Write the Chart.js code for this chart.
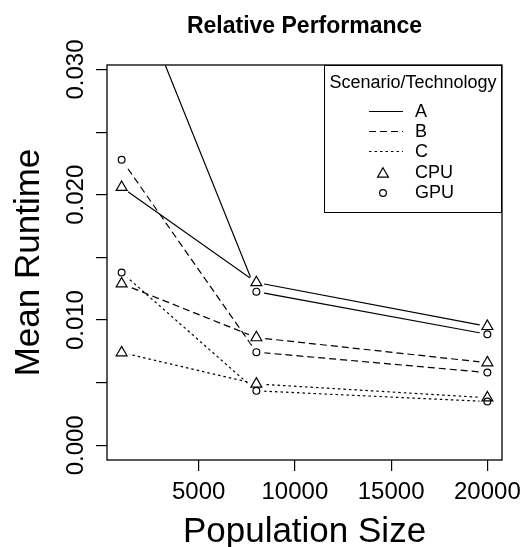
<!DOCTYPE html>
<html>
<head>
<meta charset="utf-8">
<script src="https://cdn.jsdelivr.net/npm/chart.js@4"></script>
<style>
  html, body { margin: 0; padding: 0; background: #fff; }
  #wrap { position: relative; width: 523px; height: 547px; }
  #legend {
    position: absolute; left: 324px; top: 65px; width: 178px; height: 148px;
    border: 1.3px solid #000; box-sizing: border-box;
    font-family: "Liberation Sans", Arial, sans-serif; color: #000;
  }
  #legend .title { position: absolute; left: 0; right: 0; top: 6px; text-align: center; font-size: 18px; line-height: 20px; }
  #legend .row { position: absolute; left: 0; right: 0; height: 20px; }
  #legend .row svg { position: absolute; left: 43px; top: 0; }
  #legend .row span { position: absolute; left: 90px; top: 0; font-size: 18px; line-height: 20px; }
</style>
</head>
<body>
<div id="wrap">
  <canvas id="perf" width="523" height="547"></canvas>
  <div id="legend"></div>
</div>
<script>
  // donnees
  const sizes = [1000, 8000, 20000];
  const cpuA = [0.0206, 0.0130, 0.0095];
  const gpuA = [0.0390, 0.01227, 0.00887];
  const cpuB = [0.0129, 0.0086, 0.0066];
  const gpuB = [0.0228, 0.00744, 0.00581];
  const cpuC = [0.0074, 0.0049, 0.0038];
  const gpuC = [0.0138, 0.00435, 0.0035];

  const xTicks = [5000, 10000, 15000, 20000];
  const yTicks = [0, 0.005, 0.010, 0.015, 0.020, 0.025, 0.030];
  const yLabelled = [0, 0.010, 0.020, 0.030];

  const scenarios = ["A", "B", "C"];
  const techs = ["CPU", "GPU"];

  // styles
  const FONT = '"Liberation Sans", Arial, sans-serif';
  const dashes = { A: [], B: [7, 4], C: [2.5, 3] };
  const shapes = { CPU: ["triangle", 6.3], GPU: ["circle", 3.4] };

  const series = [
    { sc: "A", tech: "CPU", vals: cpuA },
    { sc: "A", tech: "GPU", vals: gpuA },
    { sc: "B", tech: "CPU", vals: cpuB },
    { sc: "B", tech: "GPU", vals: gpuB },
    { sc: "C", tech: "CPU", vals: cpuC },
    { sc: "C", tech: "GPU", vals: gpuC },
  ];

  function pts(vals) {
    return sizes.map((x, i) => ({ x: x, y: vals[i] }));
  }

  Chart.defaults.font.family = FONT;
  Chart.defaults.color = "#000";

  // lignes avec un trou blanc autour des points (comme type="b")
  const lineSets = series.map((s) => ({
    data: pts(s.vals),
    borderColor: "#000",
    borderWidth: 1.2,
    borderDash: dashes[s.sc],
    tension: 0,
    fill: false,
    pointStyle: "circle",
    pointRadius: 8,
    pointBackgroundColor: "#fff",
    pointBorderColor: "#fff",
    pointBorderWidth: 0,
    order: 1,
  }));

  const symbolSets = series.map((s) => ({
    data: pts(s.vals),
    showLine: false,
    pointStyle: shapes[s.tech][0],
    pointRadius: shapes[s.tech][1],
    pointBorderColor: "#000",
    pointBackgroundColor: "rgba(0,0,0,0)",
    pointBorderWidth: 1.2,
    order: 0,
  }));

  // cadre autour de la zone de trace
  const frame = {
    id: "frame",
    afterDatasetsDraw(chart) {
      const { ctx, chartArea: a } = chart;
      ctx.save();
      ctx.strokeStyle = "#000";
      ctx.lineWidth = 1.3;
      ctx.strokeRect(a.left, a.top, a.right - a.left, a.bottom - a.top);
      ctx.restore();
    },
  };

  const tickGrid = {
    display: true,
    drawOnChartArea: false,
    drawTicks: true,
    tickLength: 11,
    color: "#000",
    lineWidth: 1.2,
  };

  new Chart(document.getElementById("perf"), {
    type: "line",
    data: { datasets: lineSets.concat(symbolSets) },
    plugins: [frame],
    options: {
      responsive: false,
      animation: false,
      layout: { padding: { top: 0, right: 21, bottom: 0, left: 0 } },
      plugins: {
        legend: { display: false },
        tooltip: { enabled: false },
        title: {
          display: true,
          fullSize: false,
          text: "Relative Performance",
          color: "#000",
          font: { size: 23, weight: "bold" },
          padding: { top: 13, bottom: 24.4 },
        },
      },
      scales: {
        x: {
          type: "linear",
          min: 240,
          max: 20760,
          afterBuildTicks: (s) => { s.ticks = xTicks.map((v) => ({ value: v })); },
          afterFit: (s) => { s.height = 87; s.paddingLeft = 0; s.paddingRight = 0; },
          border: { display: false },
          grid: tickGrid,
          ticks: {
            font: { size: 24 },
            color: "#000",
            padding: 7,
            maxRotation: 0,
            autoSkip: false,
            callback: (v) => String(v),
          },
          title: {
            display: true,
            text: "Population Size",
            color: "#000",
            font: { size: 35 },
            padding: { top: 0, bottom: -6 },
          },
        },
        y: {
          type: "linear",
          min: -0.00117,
          max: 0.03036,
          afterBuildTicks: (s) => { s.ticks = yTicks.map((v) => ({ value: v })); },
          afterFit: (s) => { s.width = 107; s.paddingTop = 0; s.paddingBottom = 0; },
          border: { display: false },
          grid: tickGrid,
          ticks: {
            font: { size: 24 },
            color: "#000",
            minRotation: 90,
            maxRotation: 90,
            crossAlign: "center",
            padding: -10,
            autoSkip: false,
            callback: (v) => yLabelled.some((t) => Math.abs(t - v) < 1e-9) ? v.toFixed(3) : "",
          },
          title: {
            display: true,
            text: "Mean Runtime",
            color: "#000",
            font: { size: 35 },
            padding: { top: 8, bottom: 0 },
          },
        },
      },
    },
  });

  /* LEGENDE */
  const legend = document.getElementById("legend");
  const head = document.createElement("div");
  head.className = "title";
  head.textContent = "Scenario/Technology";
  legend.appendChild(head);

  const rows = scenarios.map((n) => ({ label: n, dash: dashes[n] }))
    .concat(techs.map((n) => ({ label: n, shape: shapes[n] })));

  rows.forEach((r, i) => {
    const row = document.createElement("div");
    row.className = "row";
    row.style.top = (35 + i * 20.2) + "px";
    let svg = '<svg width="36" height="20" xmlns="http://www.w3.org/2000/svg">';
    if (r.dash) {
      svg += '<line x1="1" y1="10.5" x2="35" y2="10.5" stroke="#000" stroke-width="1.2"' +
        (r.dash.length ? ' stroke-dasharray="' + r.dash.join(" ") + '"' : "") + "/>";
    } else if (r.shape[0] === "triangle") {
      const rad = r.shape[1], cx = 15, cy = 12;
      const p = [
        [cx, cy - rad],
        [cx + rad * Math.sin(2.0944), cy - rad * Math.cos(2.0944)],
        [cx - rad * Math.sin(2.0944), cy - rad * Math.cos(2.0944)],
      ];
      svg += '<polygon points="' + p.map((q) => q.join(",")).join(" ") + '" fill="none" stroke="#000" stroke-width="1.2"/>';
    } else {
      svg += '<circle cx="15" cy="11" r="' + r.shape[1] + '" fill="none" stroke="#000" stroke-width="1.2"/>';
    }
    svg += "</svg>";
    row.innerHTML = svg + "<span>" + r.label + "</span>";
    legend.appendChild(row);
  });
</script>
</body>
</html>
